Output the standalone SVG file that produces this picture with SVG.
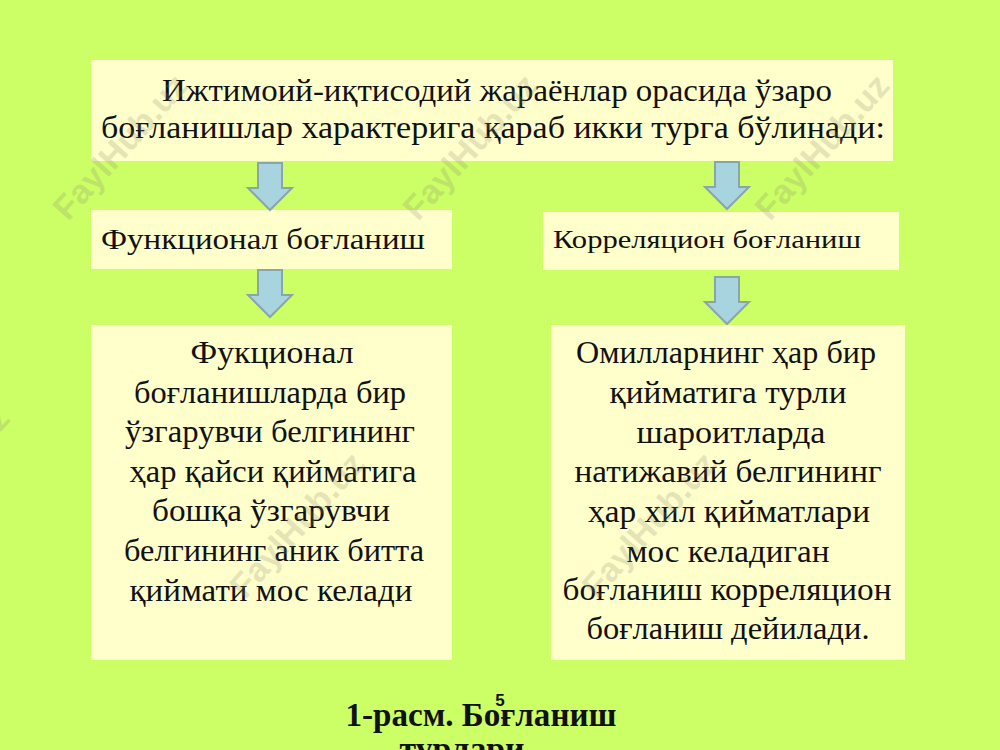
<svg xmlns="http://www.w3.org/2000/svg" width="1000" height="750" viewBox="0 0 1000 750">
<style>
.bg{fill:#ccff66}
.box{fill:#ffffcc}
.t{font-family:"Liberation Serif","Times New Roman",serif;fill:#111;font-size:32px}
.c{text-anchor:middle}
.arr{fill:#a8d4e0;stroke:#8aa4ac;stroke-width:2;stroke-linejoin:miter}
.wm{font-family:"Liberation Sans",Arial,sans-serif;font-weight:bold;font-size:34px;fill:#8a8a70;opacity:0.22}
.cap{font-family:"Liberation Serif","Times New Roman",serif;font-weight:bold;fill:#111;font-size:33px;text-anchor:middle}
</style>
<defs>
<path id="arrow" d="M-12,0 H12 V25 H22 L0,47 L-22,25 H-12 Z"/>
</defs>
<rect class="bg" x="0" y="0" width="1000" height="750"/>

<g id="node-top">
<rect class="box" x="91" y="60" width="802" height="101"/>
<text class="t c" x="497" y="101" textLength="670" lengthAdjust="spacingAndGlyphs">Ижтимоий-иқтисодий жараёнлар орасида ўзаро</text>
<text class="t" x="101" y="138" textLength="784" lengthAdjust="spacingAndGlyphs">боғланишлар характерига қараб икки турга бўлинади:</text>
</g>

<g id="node-functional">
<rect class="box" x="91" y="210" width="361" height="59"/>
<text class="t" x="101" y="249" style="font-size:30px" textLength="324" lengthAdjust="spacingAndGlyphs">Функционал боғланиш</text>
</g>

<g id="node-correlation">
<rect class="box" x="543" y="212" width="356" height="58"/>
<text class="t" x="553" y="248" style="font-size:25px" textLength="308" lengthAdjust="spacingAndGlyphs">Корреляцион боғланиш</text>
</g>

<g id="node-functional-desc">
<rect class="box" x="91" y="325" width="361" height="335"/>
<text class="t c" x="272" y="363" textLength="163" lengthAdjust="spacingAndGlyphs">Фукционал</text>
<text class="t c" x="270" y="403" textLength="272" lengthAdjust="spacingAndGlyphs">боғланишларда бир</text>
<text class="t c" x="270" y="442" textLength="290" lengthAdjust="spacingAndGlyphs">ўзгарувчи белгининг</text>
<text class="t c" x="273" y="482" textLength="287" lengthAdjust="spacingAndGlyphs">ҳар қайси қийматига</text>
<text class="t c" x="271" y="521" textLength="238" lengthAdjust="spacingAndGlyphs">бошқа ўзгарувчи</text>
<text class="t c" x="274" y="561" textLength="300" lengthAdjust="spacingAndGlyphs">белгининг аник битта</text>
<text class="t c" x="271" y="601" textLength="283" lengthAdjust="spacingAndGlyphs">қиймати мос келади</text>
</g>

<g id="node-correlation-desc">
<rect class="box" x="551" y="325" width="354" height="335"/>
<text class="t c" x="726" y="363" textLength="300" lengthAdjust="spacingAndGlyphs">Омилларнинг ҳар бир</text>
<text class="t c" x="728" y="403" textLength="237" lengthAdjust="spacingAndGlyphs">қийматига турли</text>
<text class="t c" x="731" y="443" textLength="189" lengthAdjust="spacingAndGlyphs">шароитларда</text>
<text class="t c" x="728" y="482" textLength="307" lengthAdjust="spacingAndGlyphs">натижавий белгининг</text>
<text class="t c" x="729" y="522" textLength="282" lengthAdjust="spacingAndGlyphs">ҳар хил қийматлари</text>
<text class="t c" x="728" y="562" textLength="203" lengthAdjust="spacingAndGlyphs">мос келадиган</text>
<text class="t c" x="727" y="600" textLength="329" lengthAdjust="spacingAndGlyphs">боғланиш корреляцион</text>
<text class="t c" x="728" y="639" textLength="283" lengthAdjust="spacingAndGlyphs">боғланиш дейилади.</text>
</g>

<g id="connectors">
<use href="#arrow" class="arr" transform="translate(270,163)"/>
<use href="#arrow" class="arr" transform="translate(727,162)"/>
<use href="#arrow" class="arr" transform="translate(270,270)"/>
<use href="#arrow" class="arr" transform="translate(727,277)"/>
</g>

<g id="watermarks">
<text class="wm" transform="translate(68,222) rotate(-48)">FaylHub.uz</text>
<text class="wm" transform="translate(418,222) rotate(-48)">FaylHub.uz</text>
<text class="wm" transform="translate(770,222) rotate(-48)">FaylHub.uz</text>
<text class="wm" transform="translate(-110,555) rotate(-48)">FaylHub.uz</text>
<text class="wm" transform="translate(245,600) rotate(-48)">FaylHub.uz</text>
<text class="wm" transform="translate(597,600) rotate(-48)">FaylHub.uz</text>
</g>

<g id="caption">
<text class="cap" x="481" y="726" textLength="271" lengthAdjust="spacingAndGlyphs">1-расм. Боғланиш</text>
<text class="cap" x="462" y="760" textLength="125" lengthAdjust="spacingAndGlyphs">турлари</text>
<text x="500" y="706" style="font-family:'Liberation Sans',Arial,sans-serif;font-weight:bold;font-size:17px;fill:#111;text-anchor:middle">5</text>
</g>
</svg>
